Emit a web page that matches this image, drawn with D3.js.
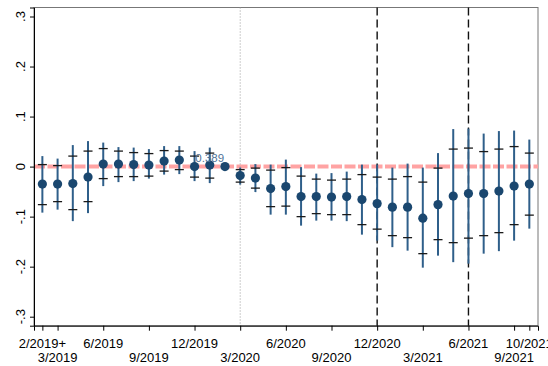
<!DOCTYPE html>
<html>
<head>
<meta charset="utf-8">
<script src="https://cdn.jsdelivr.net/npm/d3@7"></script>
<style>
  body { margin: 0; background: #fff; }
  svg { display: block; font-family: Arial, "Liberation Sans", sans-serif; }
</style>
</head>
<body>
<svg id="chart"></svg>
<script>
// Data
const months = ["2/2019","3/2019","4/2019","5/2019","6/2019","7/2019","8/2019","9/2019","10/2019","11/2019","12/2019",
  "1/2020","2/2020","3/2020","4/2020","5/2020","6/2020","7/2020","8/2020","9/2020","10/2020","11/2020","12/2020",
  "1/2021","2/2021","3/2021","4/2021","5/2021","6/2021","7/2021","8/2021","9/2021","10/2021"];
const coef   = [-0.035,-0.035,-0.034,-0.021,0.005,0.005,0.004,0.003,0.011,0.013,0.000,0.003,0,
  -0.018,-0.023,-0.044,-0.040,-0.060,-0.060,-0.061,-0.060,-0.066,
  -0.074,-0.081,-0.081,-0.103,-0.076,-0.059,-0.054,-0.054,-0.049,-0.039,-0.035];
const ciHigh = [0.021,0.016,0.043,0.051,0.048,0.039,0.038,0.035,0.041,0.041,0.031,0.038,null,
  -0.002,0.005,0.004,0.014,-0.001,-0.014,-0.013,-0.010,0.004,
  0.004,-0.002,0.006,-0.002,0.027,0.075,0.076,0.066,0.071,0.072,0.054];
const ciLow  = [-0.092,-0.086,-0.109,-0.093,-0.039,-0.031,-0.029,-0.024,-0.016,-0.015,-0.029,-0.033,null,
  -0.036,-0.051,-0.096,-0.096,-0.118,-0.108,-0.108,-0.109,-0.136,
  -0.148,-0.161,-0.168,-0.202,-0.178,-0.191,-0.194,-0.174,-0.169,-0.148,-0.124];
const capHigh = [0.004,0.002,0.021,0.031,0.036,0.031,0.028,0.026,0.032,0.031,0.021,0.027,null,
  -0.006,-0.003,-0.007,-0.002,-0.019,-0.025,-0.027,-0.025,-0.016,
  -0.021,-0.025,-0.020,-0.031,-0.003,0.035,0.037,0.030,0.035,0.040,0.027];
const capLow  = [-0.076,-0.070,-0.086,-0.070,-0.024,-0.020,-0.020,-0.019,-0.009,-0.006,-0.021,-0.023,null,
  -0.031,-0.043,-0.080,-0.079,-0.100,-0.094,-0.096,-0.096,-0.116,
  -0.125,-0.138,-0.142,-0.174,-0.146,-0.152,-0.143,-0.138,-0.132,-0.116,-0.097];

// x tick labels (row 0 = upper line, row 1 = lower line)
const xTickMonths = ["2/2019","3/2019","6/2019","9/2019","12/2019","3/2020","6/2020","9/2020","12/2020","3/2021","6/2021","9/2021","10/2021"];
const xTickLabels = ["2/2019+","3/2019","6/2019","9/2019","12/2019","3/2020","6/2020","9/2020","12/2020","3/2021","6/2021","9/2021","10/2021"];
const xTickRows   = [0,1,0,1,0,1,0,1,0,1,0,1,0];
const yTicks = [-0.3,-0.2,-0.1,0,0.1,0.2,0.3];
const yTickLabels = ["-.3","-.2","-.1","0",".1",".2",".3"];
const shockLine = "3/2020";
const phaseLines = ["12/2020","6/2021"];
const refMonth = "1/2020";
const refLabel = "0.389";

const width = 548, height = 366;
const plot = { left: 34, right: 538, top: 7.5, bottom: 325.7 };

const svg = d3.select("#chart")
    .attr("width", width)
    .attr("height", height);

const x = d3.scaleLinear().domain([-0.55, 32.57]).range([plot.left, plot.right]);
const y = d3.scaleLinear().domain([-0.318, 0.318]).range([plot.bottom, plot.top]);
const xi = m => x(months.indexOf(m));

// plot region outline
svg.append("rect")
    .attr("x", plot.left).attr("y", plot.top)
    .attr("width", plot.right - plot.left).attr("height", plot.bottom - plot.top)
    .attr("fill", "none").attr("stroke", "#777").attr("stroke-width", 1);

// zero reference line
svg.append("line")
    .attr("x1", plot.left).attr("x2", plot.right)
    .attr("y1", y(0)).attr("y2", y(0))
    .attr("stroke", "#ffa3a3").attr("stroke-width", 4)
    .attr("stroke-dasharray", "11,2.5");

// vertical marker lines
svg.append("line")
    .attr("x1", xi(shockLine)).attr("x2", xi(shockLine))
    .attr("y1", plot.top).attr("y2", plot.bottom)
    .attr("stroke", "#9a9a9a").attr("stroke-width", 1)
    .attr("stroke-dasharray", "1,2");

svg.selectAll(".phase")
    .data(phaseLines)
    .enter()
    .append("line")
    .attr("class", "phase")
    .attr("x1", d => xi(d)).attr("x2", d => xi(d))
    .attr("y1", plot.top).attr("y2", plot.bottom)
    .attr("stroke", "#111").attr("stroke-width", 1.4)
    .attr("stroke-dasharray", "8,4");

const pts = months.map((m, i) => ({ i, m, b: coef[i], hi: ciHigh[i], lo: ciLow[i], chi: capHigh[i], clo: capLow[i] }));
const withCi = pts.filter(d => d.hi !== null);

// confidence interval spikes
svg.selectAll(".ci")
    .data(withCi)
    .enter()
    .append("line")
    .attr("class", "ci")
    .attr("x1", d => x(d.i)).attr("x2", d => x(d.i))
    .attr("y1", d => y(d.hi)).attr("y2", d => y(d.lo))
    .attr("stroke", "#2f5f8a").attr("stroke-width", 2);

// narrower interval caps
["chi", "clo"].forEach(k => {
    svg.selectAll(".cap-" + k)
        .data(withCi)
        .enter()
        .append("line")
        .attr("class", "cap-" + k)
        .attr("x1", d => x(d.i) - 4.5).attr("x2", d => x(d.i) + 4.5)
        .attr("y1", d => y(d[k])).attr("y2", d => y(d[k]))
        .attr("stroke", "#1a1a1a").attr("stroke-width", 1.3);
});

// point estimates
svg.selectAll(".dot")
    .data(pts)
    .enter()
    .append("circle")
    .attr("class", "dot")
    .attr("cx", d => x(d.i)).attr("cy", d => y(d.b))
    .attr("r", 4.6)
    .attr("fill", "#1a476f");

// y axis
const yAxis = svg.append("g")
    .attr("transform", `translate(${plot.left},0)`)
    .call(d3.axisLeft(y).tickValues(yTicks).tickSize(4).tickFormat(""));
yAxis.select(".domain").attr("stroke", "#000");
yAxis.selectAll(".tick line").attr("stroke", "#000");

svg.selectAll(".ylab")
    .data(yTicks)
    .enter()
    .append("text")
    .attr("class", "ylab")
    .attr("transform", d => `translate(24.5,${y(d)}) rotate(-90)`)
    .attr("text-anchor", "middle")
    .style("font-size", "13px")
    .attr("fill", "#000")
    .text((d, i) => yTickLabels[i]);

// x axis
const xAxis = svg.append("g")
    .attr("transform", `translate(0,${plot.bottom})`)
    .call(d3.axisBottom(x).tickValues(xTickMonths.map(m => months.indexOf(m))).tickSize(5).tickFormat(""));
xAxis.select(".domain").attr("stroke", "#000");
xAxis.selectAll(".tick line").attr("stroke", "#000");

svg.selectAll(".xlab")
    .data(xTickMonths)
    .enter()
    .append("text")
    .attr("class", "xlab")
    .attr("x", d => xi(d))
    .attr("y", (d, i) => xTickRows[i] === 0 ? 347.5 : 361.5)
    .attr("text-anchor", "middle")
    .style("font-size", "13px")
    .attr("fill", "#000")
    .text((d, i) => xTickLabels[i]);

// baseline label, drawn on top of the markers
svg.append("text")
    .attr("x", xi(refMonth)).attr("y", y(0) - 4.5)
    .attr("text-anchor", "middle")
    .style("font-size", "11.5px")
    .attr("fill", "#4f7398")
    .text(refLabel);
</script>
</body>
</html>
